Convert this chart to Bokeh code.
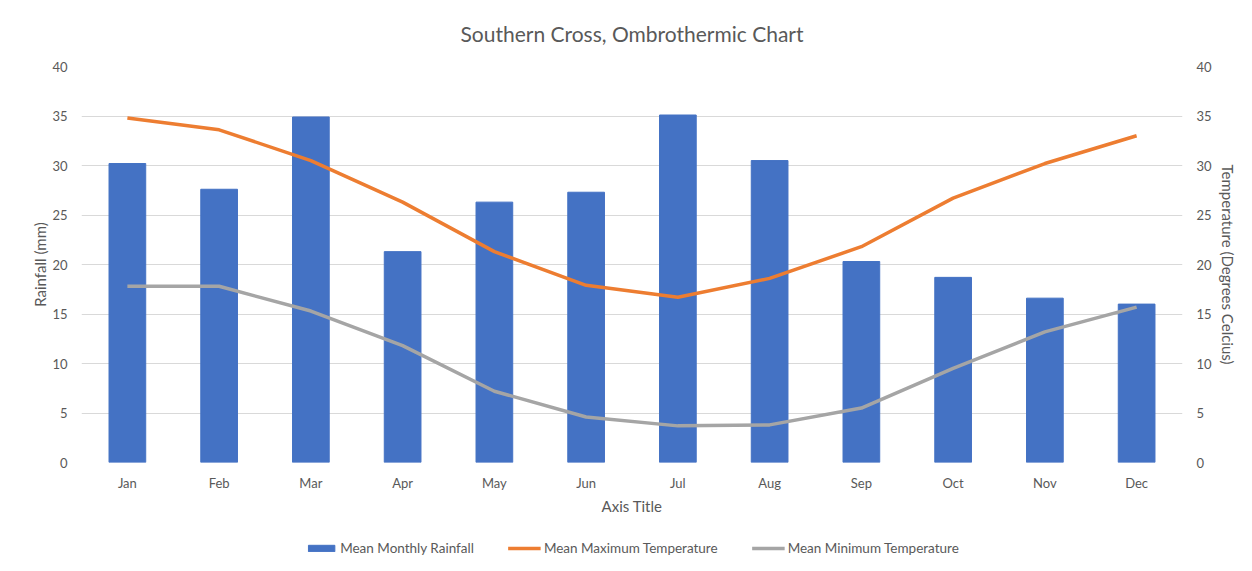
from bokeh.plotting import figure
from bokeh.layouts import column
from bokeh.models import (Range1d, LinearAxis, FixedTicker, Legend, LegendItem,
                          ColumnDataSource, Label)
from bokeh.embed import file_html
from bokeh.resources import INLINE

months = ["Jan", "Feb", "Mar", "Apr", "May", "Jun", "Jul", "Aug", "Sep", "Oct", "Nov", "Dec"]
rainfall = [30.2, 27.6, 34.9, 21.3, 26.3, 27.3, 35.1, 30.5, 20.3, 18.7, 16.6, 16.0]
max_temp = [34.8, 33.6, 30.5, 26.3, 21.3, 17.9, 16.7, 18.6, 21.8, 26.7, 30.2, 33.0]
min_temp = [17.8, 17.8, 15.3, 11.8, 7.2, 4.6, 3.7, 3.8, 5.5, 9.5, 13.2, 15.7]
y_ticks = [0, 5, 10, 15, 20, 25, 30, 35, 40]
title_text = "Southern Cross, Ombrothermic Chart"

FONT = "Lato"
TXT = "#595959"
C_RAIN, C_MAX, C_MIN = "#4472C4", "#ED7D31", "#A5A5A5"

src = ColumnDataSource(dict(month=months, rain=rainfall, tmax=max_temp, tmin=min_temp))


def strip(frame_h):
    f = figure(x_range=Range1d(0, 1), y_range=Range1d(0, frame_h), frame_width=1101,
               frame_height=frame_h, output_backend="svg", toolbar_location=None,
               min_border_left=81, min_border_right=66, min_border_top=0, min_border_bottom=0)
    f.axis.visible = False
    f.grid.visible = False
    f.outline_line_color = None
    f.border_fill_color = "white"
    return f


# Title strip
tf = strip(58)
tf.add_layout(Label(x=0.5, y=25, text=title_text, text_align="center", text_baseline="middle",
                    text_font=FONT, text_font_size="21px", text_color=TXT))

# Main chart
p = figure(x_range=months, y_range=Range1d(0, 40), frame_width=1101, frame_height=396,
           output_backend="svg", toolbar_location=None,
           min_border_left=81, min_border_right=66, min_border_top=8, min_border_bottom=68)
p.extra_y_ranges = {"temp": Range1d(0, 40)}
p.outline_line_color = None
p.background_fill_color = "white"
p.border_fill_color = "white"

p.vbar(x="month", top="rain", width=0.4, source=src, color=C_RAIN)
p.line(x="month", y="tmax", source=src, line_color=C_MAX, line_width=3.5, y_range_name="temp")
p.line(x="month", y="tmin", source=src, line_color=C_MIN, line_width=3.5, y_range_name="temp")

p.xgrid.grid_line_color = None
p.ygrid.grid_line_color = "#D9D9D9"
p.ygrid.grid_line_width = 1
p.yaxis.ticker = FixedTicker(ticks=y_ticks)
p.yaxis.axis_label = "Rainfall (mm)"
p.xaxis.axis_label = "Axis Title"

right = LinearAxis(y_range_name="temp", ticker=FixedTicker(ticks=y_ticks),
                   axis_label="Temperature (Degrees Celcius)")
p.add_layout(right, "right")

for ax in p.axis:
    ax.axis_line_color = None
    ax.major_tick_line_color = None
    ax.minor_tick_line_color = None
    ax.major_label_text_font = FONT
    ax.major_label_text_font_size = "13px"
    ax.major_label_text_color = TXT
    ax.axis_label_text_font = FONT
    ax.axis_label_text_font_size = "15px"
    ax.axis_label_text_font_style = "normal"
    ax.axis_label_text_color = TXT
    ax.major_label_standoff = 8

p.yaxis[0].axis_label_standoff = 0
right.axis_label_standoff = 4
p.xaxis.major_label_standoff = 6
p.xaxis.axis_label_standoff = 3

# Legend strip below the chart
lf = figure(x_range=months, y_range=Range1d(100, 110), frame_width=1101, frame_height=36,
            output_backend="svg", toolbar_location=None,
            min_border_left=81, min_border_right=66, min_border_top=0, min_border_bottom=0)
lf.axis.visible = False
lf.grid.visible = False
lf.outline_line_color = None
lf.border_fill_color = "white"
lr_bar = lf.vbar(x="month", top="rain", width=0.4, source=src, color=C_RAIN)
lr_max = lf.line(x="month", y="tmax", source=src, line_color=C_MAX, line_width=3.5)
lr_min = lf.line(x="month", y="tmin", source=src, line_color=C_MIN, line_width=3.5)

legend = Legend(items=[
    LegendItem(label="Mean Monthly Rainfall", renderers=[lr_bar]),
    LegendItem(label="Mean Maximum Temperature", renderers=[lr_max]),
    LegendItem(label="Mean Minimum Temperature", renderers=[lr_min]),
], orientation="horizontal", location="center")
legend.border_line_color = None
legend.background_fill_alpha = 0
legend.label_text_font = FONT
legend.label_text_font_size = "13.5px"
legend.label_text_color = TXT
legend.glyph_width = 33
legend.glyph_height = 8
legend.label_standoff = 3
legend.spacing = 34
legend.margin = 0
legend.padding = 2
lf.add_layout(legend)

layout = column(tf, p, lf, spacing=0)
open("out.html", "w").write(file_html(layout, INLINE))
